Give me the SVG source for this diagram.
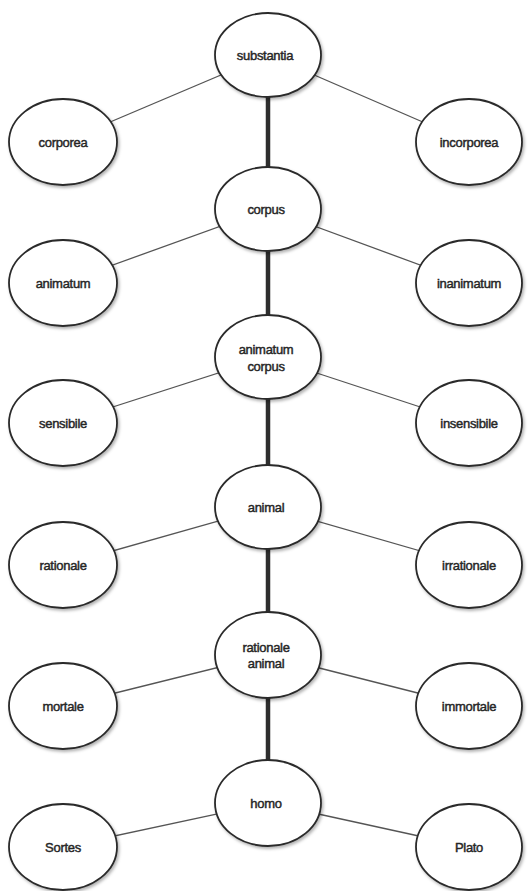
<svg xmlns="http://www.w3.org/2000/svg" width="531" height="891" viewBox="0 0 531 891">
<defs>
<filter id="sh" x="-20%" y="-20%" width="150%" height="150%">
<feDropShadow dx="1.5" dy="2" stdDeviation="1.5" flood-color="#000" flood-opacity="0.3"/>
</filter>
</defs>
<style>
.n ellipse{fill:#fff;stroke:#2a2a2a;stroke-width:1.8;filter:url(#sh)}
.n text{font-family:"Liberation Sans",Arial,sans-serif;font-size:13px;fill:#262626;stroke:#262626;stroke-width:0.45;text-anchor:middle;letter-spacing:-0.3px}
.thin{stroke:#555;stroke-width:1.3;fill:none}
.thick{stroke:#2e2e2e;stroke-width:4.5;fill:none}
</style>
<rect width="531" height="891" fill="#fff"/>
<g id="connectors">
<line class="thin" x1="268" y1="55" x2="63" y2="142"/>
<line class="thin" x1="268" y1="55" x2="469" y2="142"/>
<line class="thick" x1="268" y1="55" x2="268" y2="209"/>
<line class="thin" x1="268" y1="209" x2="63" y2="283"/>
<line class="thin" x1="268" y1="209" x2="469" y2="283"/>
<line class="thick" x1="268" y1="209" x2="268" y2="357"/>
<line class="thin" x1="268" y1="357" x2="63" y2="423"/>
<line class="thin" x1="268" y1="357" x2="469" y2="423"/>
<line class="thick" x1="268" y1="357" x2="268" y2="507"/>
<line class="thin" x1="268" y1="507" x2="63" y2="565"/>
<line class="thin" x1="268" y1="507" x2="469" y2="565"/>
<line class="thick" x1="268" y1="507" x2="268" y2="655"/>
<line class="thin" x1="268" y1="655" x2="63" y2="706"/>
<line class="thin" x1="268" y1="655" x2="469" y2="706"/>
<line class="thick" x1="268" y1="655" x2="268" y2="803"/>
<line class="thin" x1="268" y1="803" x2="63" y2="847"/>
<line class="thin" x1="268" y1="803" x2="469" y2="847"/>
</g>
<g id="substantia" class="n"><ellipse cx="268" cy="55" rx="53" ry="42"/><text x="265" y="60">substantia</text></g>
<g id="corporea" class="n"><ellipse cx="63" cy="142" rx="54" ry="43"/><text x="63" y="147">corporea</text></g>
<g id="incorporea" class="n"><ellipse cx="469" cy="142" rx="53" ry="43"/><text x="469" y="147">incorporea</text></g>
<g id="corpus" class="n"><ellipse cx="268" cy="209" rx="53" ry="42"/><text x="266" y="214">corpus</text></g>
<g id="animatum" class="n"><ellipse cx="63" cy="283" rx="54" ry="43"/><text x="63" y="288">animatum</text></g>
<g id="inanimatum" class="n"><ellipse cx="469" cy="283" rx="53" ry="43"/><text x="469" y="288">inanimatum</text></g>
<g id="animatum-corpus" class="n"><ellipse cx="268" cy="357" rx="53" ry="42"/><text x="266" y="354">animatum</text><text x="266" y="371">corpus</text></g>
<g id="sensibile" class="n"><ellipse cx="63" cy="423" rx="54" ry="43"/><text x="63" y="428">sensibile</text></g>
<g id="insensibile" class="n"><ellipse cx="469" cy="423" rx="53" ry="43"/><text x="469" y="428">insensibile</text></g>
<g id="animal" class="n"><ellipse cx="268" cy="507" rx="53" ry="42"/><text x="266" y="512">animal</text></g>
<g id="rationale" class="n"><ellipse cx="63" cy="565" rx="54" ry="43"/><text x="63" y="570">rationale</text></g>
<g id="irrationale" class="n"><ellipse cx="469" cy="565" rx="53" ry="43"/><text x="469" y="570">irrationale</text></g>
<g id="rationale-animal" class="n"><ellipse cx="268" cy="655" rx="53" ry="43"/><text x="266" y="652">rationale</text><text x="266" y="668">animal</text></g>
<g id="mortale" class="n"><ellipse cx="63" cy="706" rx="54" ry="43"/><text x="63" y="711">mortale</text></g>
<g id="immortale" class="n"><ellipse cx="469" cy="706" rx="53" ry="43"/><text x="469" y="711">immortale</text></g>
<g id="homo" class="n"><ellipse cx="268" cy="803" rx="53" ry="43"/><text x="266" y="808">homo</text></g>
<g id="Sortes" class="n"><ellipse cx="63" cy="847" rx="54" ry="43"/><text x="63" y="852">Sortes</text></g>
<g id="Plato" class="n"><ellipse cx="469" cy="847" rx="53" ry="43"/><text x="469" y="852">Plato</text></g>
</svg>
